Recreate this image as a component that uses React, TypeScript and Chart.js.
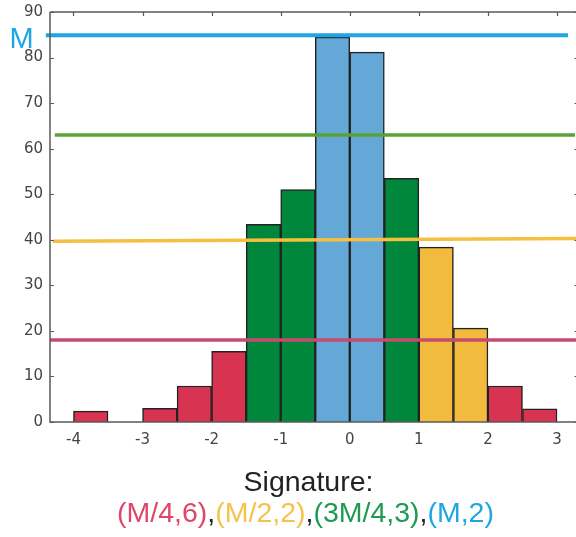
import React, { useEffect, useRef } from "react";
import { Chart, registerables } from "chart.js";

Chart.register(...registerables);

// ---- data ----
const BIN_CENTERS = [-3.75, -2.75, -2.25, -1.75, -1.25, -0.75, -0.25, 0.25, 0.75, 1.25, 1.75, 2.25, 2.75];
const BIN_COUNTS = [2.4, 3.0, 7.9, 15.5, 43.4, 51.0, 84.5, 81.2, 53.5, 38.4, 20.6, 7.9, 2.9];
const BIN_GROUPS = ["r", "r", "r", "r", "g", "g", "b", "b", "g", "y", "y", "r", "r"];
const X_TICKS = [-4, -3, -2, -1, 0, 1, 2, 3];
const Y_TICKS = [0, 10, 20, 30, 40, 50, 60, 70, 80, 90];
const X_MIN = -4.34;
const X_MAX = 3.275;

const LINE_BLUE_X = [-4.4, 3.16];
const LINE_BLUE_Y = [84.9, 84.9];
const LINE_GREEN_X = [-4.27, 3.26];
const LINE_GREEN_Y = [63.0, 63.0];
const LINE_YELLOW_X = [-4.3, 3.275];
const LINE_YELLOW_Y = [39.7, 40.3];
const LINE_RED_X = [-4.34, 3.275];
const LINE_RED_Y = [18.0, 18.0];

const SIG_TITLE = "Signature:";
const SIG_PARTS = ["(M/4,6)", ",", "(M/2,2)", ",", "(3M/4,3)", ",", "(M,2)"];
const SIG_COLORS = ["#e0456b", "#222222", "#f6c24c", "#222222", "#1e9a52", "#222222", "#1ea6e3"];
const LEVEL_LABEL = "M";

const FILL: Record<string, string> = {
  r: "#d93352",
  g: "#00873c",
  b: "#64a8d8",
  y: "#f2bb3e",
};

const AXIS_COLOR = "#5a5a5a";

const decorPlugin = {
  id: "decor",
  afterDraw(chart: any) {
    const ctx = chart.ctx as CanvasRenderingContext2D;
    const a = chart.chartArea;
    const xs = chart.scales.x;
    const ys = chart.scales.y;
    ctx.save();
    ctx.strokeStyle = AXIS_COLOR;
    ctx.lineWidth = 1.5;
    ctx.beginPath();
    ctx.moveTo(a.left, a.top);
    ctx.lineTo(a.left, a.bottom);
    ctx.lineTo(a.right, a.bottom);
    ctx.moveTo(a.left, a.top);
    ctx.lineTo(a.right, a.top);
    ctx.stroke();
    ctx.lineWidth = 1.2;
    ctx.beginPath();
    X_TICKS.forEach((v) => {
      const px = Math.round(xs.getPixelForValue(v)) + 0.5;
      ctx.moveTo(px, a.top);
      ctx.lineTo(px, a.top + 4);
    });
    Y_TICKS.forEach((v) => {
      const py = Math.round(ys.getPixelForValue(v)) + 0.5;
      ctx.moveTo(a.left, py);
      ctx.lineTo(a.left + 4, py);
      ctx.moveTo(a.right, py);
      ctx.lineTo(a.right - 1.5, py);
    });
    ctx.stroke();

    // level label
    ctx.fillStyle = "#1ea6e3";
    ctx.font = '29px "Liberation Sans", Arial, sans-serif';
    ctx.textAlign = "center";
    ctx.textBaseline = "alphabetic";
    ctx.fillText(LEVEL_LABEL, 21.5, ys.getPixelForValue(LINE_BLUE_Y[0]) + 13);

    // signature
    ctx.font = '28.5px "Liberation Sans", Arial, sans-serif';
    ctx.fillStyle = "#222222";
    ctx.fillText(SIG_TITLE, 308.5, 491);
    ctx.textAlign = "left";
    const widths = SIG_PARTS.map((p) => ctx.measureText(p).width);
    const total = widths.reduce((s, w) => s + w, 0);
    let x = 305.5 - total / 2;
    SIG_PARTS.forEach((p, i) => {
      ctx.fillStyle = SIG_COLORS[i];
      ctx.fillText(p, x, 522);
      x += widths[i];
    });
    ctx.restore();
  },
};

function lineDs(xs: number[], ys: number[], color: string, width: number) {
  return {
    type: "line" as const,
    data: xs.map((x, i) => ({ x, y: ys[i] })),
    borderColor: color,
    borderWidth: width,
    pointRadius: 0,
    fill: false,
    clip: false as any,
    order: 1,
  };
}

export default function App() {
  const ref = useRef<HTMLCanvasElement | null>(null);
  useEffect(() => {
    if (!ref.current) return;
    const chart = new Chart(ref.current, {
      type: "bar",
      data: {
        datasets: [
          lineDs(LINE_BLUE_X, LINE_BLUE_Y, "#1ea5e2", 4),
          lineDs(LINE_GREEN_X, LINE_GREEN_Y, "#5ba236", 3.5),
          lineDs(LINE_YELLOW_X, LINE_YELLOW_Y, "#f5bf3f", 3.5),
          lineDs(LINE_RED_X, LINE_RED_Y, "#c64b6f", 3.5),
          {
            type: "bar",
            data: BIN_CENTERS.map((x, i) => ({ x, y: BIN_COUNTS[i] })),
            backgroundColor: BIN_GROUPS.map((g) => FILL[g]),
            borderColor: "#222222",
            borderWidth: 1.5,
            barPercentage: 1,
            categoryPercentage: 1,
            order: 2,
          } as any,
        ],
      },
      options: {
        animation: false,
        responsive: false,
        maintainAspectRatio: false,
        layout: { padding: { top: 12, left: 0, right: 0, bottom: 85 } },
        plugins: { legend: { display: false }, tooltip: { enabled: false } },
        scales: {
          x: {
            type: "linear",
            min: X_MIN,
            max: X_MAX,
            offset: false,
            grid: { display: false, drawTicks: false },
            border: { display: false },
            afterBuildTicks: (s: any) => {
              s.ticks = X_TICKS.map((v) => ({ value: v }));
            },
            afterFit: (s: any) => {
              s.height = 30;
              s.paddingLeft = 0;
              s.paddingRight = 0;
              s.paddingTop = 0;
              s.paddingBottom = 0;
            },
            ticks: {
              color: "#444444",
              font: { family: "DejaVu Sans", size: 15 },
              padding: 9,
              maxRotation: 0,
              autoSkip: false,
              callback: (v: any) => String(v),
            },
          },
          y: {
            type: "linear",
            min: 0,
            max: 90,
            grid: { display: false, drawTicks: false },
            border: { display: false },
            afterBuildTicks: (s: any) => {
              s.ticks = Y_TICKS.map((v) => ({ value: v }));
            },
            afterFit: (s: any) => {
              s.width = 50;
              s.paddingLeft = 0;
              s.paddingRight = 0;
              s.paddingTop = 0;
              s.paddingBottom = 0;
            },
            ticks: {
              color: "#444444",
              font: { family: "DejaVu Sans", size: 15 },
              padding: 7,
              callback: (v: any) => String(v),
            },
          },
        },
      } as any,
      plugins: [decorPlugin],
    });
    return () => chart.destroy();
  }, []);
  return (
    <div style={{ position: "fixed", left: 0, top: 0, width: 576, height: 537, background: "#fff" }}>
      <canvas ref={ref} width={576} height={537} style={{ width: 576, height: 537, display: "block" }} />
    </div>
  );
}
